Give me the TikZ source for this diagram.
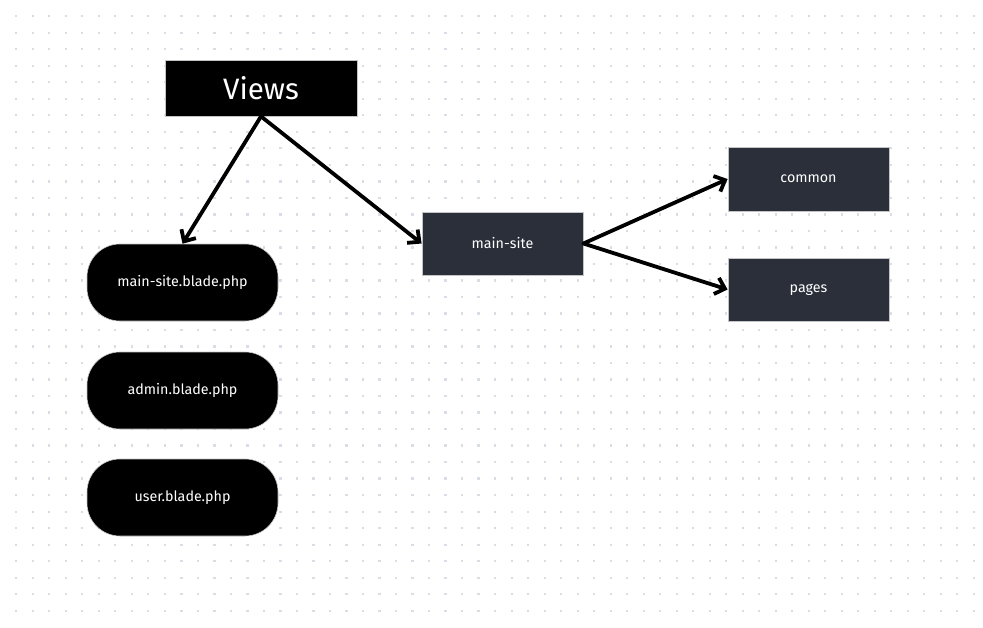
\documentclass[tikz,border=0pt]{standalone}
\usepackage{fontspec}
\setmainfont{Fira Sans}
\usetikzlibrary{arrows.meta}
\definecolor{dotc}{HTML}{D9DEE6}
\definecolor{darkbox}{HTML}{2A2F39}
\definecolor{edgec}{HTML}{C4C4C4}
\tikzset{
  blackbox/.style={draw=edgec, line width=0.8pt, fill=black, text=white, minimum width=192pt, minimum height=56pt, inner sep=0pt, font=\fontsize{29.5}{34}\selectfont},
  folder/.style={draw=edgec, line width=0.8pt, fill=darkbox, text=white, minimum width=161pt, minimum height=63pt, inner sep=0pt, font=\fontsize{14.3}{17}\selectfont},
  pill/.style={draw=edgec, line width=0.6pt, fill=black, text=white, rounded corners=33pt, minimum width=191pt, minimum height=77pt, inner sep=0pt, font=\fontsize{14.3}{17}\selectfont},
  conn/.style={line width=3.8pt, line cap=round, line join=round, -{Straight Barb[length=9pt,width=17pt,line width=3.8pt]}}
}
\begin{document}
\begin{tikzpicture}[x=1pt,y=-1pt]
\useasboundingbox (0,0) rectangle (983,627);
\fill[white] (0,0) rectangle (983,627);
\foreach \i in {0,...,58}{
  \foreach \j in {0,...,36}{
    \fill[dotc] ({16.3+16.51*\i-1.1},{16.3+16.51*\j-1.1}) rectangle ++(2.2,2.2);
  }
}
\node[blackbox] (views) at (261,88) {Views};
\node[folder] (mainsite) at (502.5,243.5) {main-site};
\node[folder, minimum height=64pt] (common) at (808.5,179) {common};
\node[folder] (pages) at (808.5,289.5) {pages};
\node[pill] (mainblade) at (182.5,282.5) {main-site.blade.php};
\node[pill] (admin) at (182.5,390.5) {admin.blade.php};
\node[pill] (user) at (182.5,497.5) {user.blade.php};
\draw[conn] (views.south) -- (mainblade.north);
\draw[conn] (views.south) -- (mainsite.west);
\draw[conn] (mainsite.east) -- (common.west);
\draw[conn] (mainsite.east) -- (pages.west);
\end{tikzpicture}
\end{document}
